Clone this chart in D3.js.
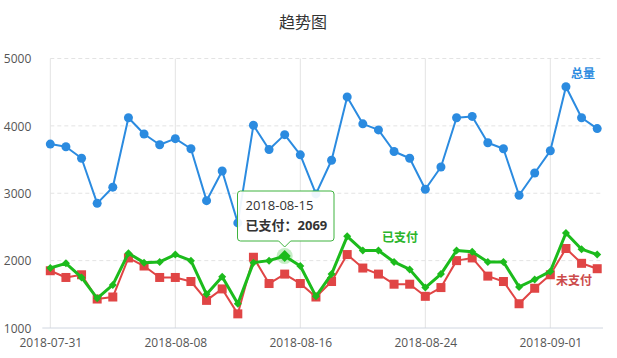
<!DOCTYPE html>
<html><head><meta charset="utf-8">
<script src="https://cdn.jsdelivr.net/npm/d3@7/dist/d3.min.js"></script>
<style>body{margin:0;background:#fff;}svg{display:block;font-family:"Noto Sans CJK SC","Microsoft YaHei",sans-serif;}</style>
</head><body>
<svg id="c" width="617" height="358"></svg>
<script>
const startDate = "2018-07-31";
const dayCount = 36;
const totalValues = [3730,3690,3520,2850,3090,4120,3880,3720,3810,3660,2890,3330,2560,4010,3650,3870,3570,2990,3490,4430,4030,3940,3620,3520,3060,3390,4120,4140,3750,3660,2970,3300,3630,4580,4120,3960];
const paidValues = [1890,1960,1750,1440,1640,2110,1970,1980,2090,2000,1500,1760,1360,1970,2000,2069,1920,1470,1800,2360,2150,2150,1980,1870,1600,1800,2150,2130,1980,1980,1610,1720,1840,2410,2170,2090];
const unpaidValues = [1850,1750,1790,1430,1460,2040,1920,1750,1750,1690,1410,1580,1210,2050,1660,1800,1660,1460,1690,2090,1890,1800,1650,1650,1470,1600,2000,2040,1770,1690,1360,1590,1790,2180,1960,1880];
const seriesNames = ["总量","已支付","未支付"];
const yTicks = [1000,2000,3000,4000,5000];
const xTickLabels = ["2018-07-31","2018-08-08","2018-08-16","2018-08-24","2018-09-01"];
const tooltipIndex = 15;

const parse = d3.timeParse("%Y-%m-%d");
const fmt = d3.timeFormat("%Y-%m-%d");
const t0 = parse(startDate);
const dates = d3.range(dayCount).map(i => d3.timeDay.offset(t0, i));

const svg = d3.select("#c");
const L = 50.3, R = 597.2, axisEnd = 603, T = 58.5, B = 328;
const x = d3.scaleTime().domain([dates[0], dates[dates.length-1]]).range([L, R]);
const y = d3.scaleLinear().domain([1000,5000]).range([B, T]);
const xTicks = xTickLabels.map(parse);

// grid
svg.append("g").selectAll("line").data(yTicks.slice(1)).join("line")
  .attr("x1", L).attr("x2", axisEnd).attr("y1", d=>y(d)).attr("y2", d=>y(d))
  .attr("stroke", "#e3e3e3").attr("stroke-dasharray","4,3");
svg.append("g").selectAll("line").data(xTicks).join("line")
  .attr("x1", d=>x(d)).attr("x2", d=>x(d)).attr("y1", T).attr("y2", B)
  .attr("stroke", "#e3e3e3");
svg.append("line").attr("x1", L-8).attr("x2", axisEnd).attr("y1", B).attr("y2", B).attr("stroke", "#d0d6e0");

// axes labels
const yAxis = d3.axisLeft(y).tickValues(yTicks).tickFormat(d3.format("d")).tickSize(0).tickPadding(0);
svg.append("g").attr("transform", `translate(${L-19},0)`).call(yAxis)
  .call(g=>g.select(".domain").remove())
  .selectAll("text").attr("fill","#555").style("font-size","12px").style("font-family","'Open Sans',sans-serif").attr("dy","0.35em");
const xAxis = d3.axisBottom(x).tickValues(xTicks).tickFormat(fmt).tickSize(0).tickPadding(0);
svg.append("g").attr("transform", `translate(0,${B+15})`).call(xAxis)
  .call(g=>g.select(".domain").remove())
  .selectAll("text").attr("fill","#555").style("font-size","12px").style("font-family","'Open Sans',sans-serif").attr("dy","0.35em");

// title
svg.append("text").attr("x", 303).attr("y", 28).attr("text-anchor","middle")
  .attr("fill","#333").style("font-size","16px").text("趋势图");

const series = [
  {name: seriesNames[0], values: totalValues, color: "#2b8be0", width: 2, marker: "circle", labelColor:"#2b8be0", label:[583,78]},
  {name: seriesNames[1], values: paidValues, color: "#1cbb1c", width: 3, marker: "diamond", labelColor:"#2bb52b", label:[400,242]},
  {name: seriesNames[2], values: unpaidValues, color: "#e04545", width: 2, marker: "square", labelColor:"#cc4b4b", label:[574,285]}
];
const line = d3.line().x((d,i)=>x(dates[i])).y(d=>y(d));

[2,1,0].forEach(si => {
  const s = series[si];
  const g = svg.append("g");
  g.append("path").datum(s.values).attr("d", line).attr("fill","none")
    .attr("stroke", s.color).attr("stroke-width", s.width).attr("stroke-linejoin","round");
  if (s.marker === "circle") {
    g.selectAll("circle").data(s.values).join("circle")
      .attr("cx",(d,i)=>x(dates[i])).attr("cy",d=>y(d)).attr("r",4.5).attr("fill",s.color);
  } else if (s.marker === "square") {
    g.selectAll("rect").data(s.values).join("rect")
      .attr("x",(d,i)=>x(dates[i])-4.5).attr("y",d=>y(d)-4.5).attr("width",9).attr("height",9).attr("fill",s.color);
  } else {
    g.append("circle").attr("cx", x(dates[tooltipIndex])).attr("cy", y(s.values[tooltipIndex])).attr("r", 8)
      .attr("fill", "#1cbb1c").attr("opacity", 0.25);
    g.selectAll("path.m").data(s.values).join("path").attr("class","m")
      .attr("transform",(d,i)=>`translate(${x(dates[i])},${y(d)})`)
      .attr("d", (d,i)=> i===tooltipIndex ? "M0,-6L6,0L0,6L-6,0Z" : "M0,-4L4,0L0,4L-4,0Z").attr("fill", s.color);
  }
  svg.append("text").attr("x", s.label[0]).attr("y", s.label[1]).attr("text-anchor","middle")
    .attr("fill", s.labelColor).style("font-size","12px").style("font-weight","bold").text(s.name);
});

// tooltip
const tx = x(dates[tooltipIndex]);
const tg = svg.append("g");
const bx = 237.5, by = 191, bw = 96.5, bh = 50;
const tipY = by + bh + 6;
tg.append("path")
  .attr("d", `M${bx+3},${by} H${bx+bw-3} Q${bx+bw},${by} ${bx+bw},${by+3} V${by+bh-3} Q${bx+bw},${by+bh} ${bx+bw-3},${by+bh} H${tx+6} L${tx},${tipY} L${tx-6},${by+bh} H${bx+3} Q${bx},${by+bh} ${bx},${by+bh-3} V${by+3} Q${bx},${by} ${bx+3},${by} Z`)
  .attr("fill","rgba(255,255,255,0.92)").attr("stroke","#3fb33f").attr("stroke-width",1);
tg.append("text").attr("x", bx+8).attr("y", by+19).attr("fill","#333").style("font-size","13px")
  .style("font-family","'Open Sans',sans-serif").text(fmt(dates[tooltipIndex]));
const t2 = tg.append("text").attr("x", bx+8).attr("y", by+39).attr("fill","#333").style("font-size","13px").style("font-weight","bold");
t2.append("tspan").text(seriesNames[1] + "：");
t2.append("tspan").style("font-family","'Open Sans',sans-serif").text(paidValues[tooltipIndex]);
</script>
</body></html>
